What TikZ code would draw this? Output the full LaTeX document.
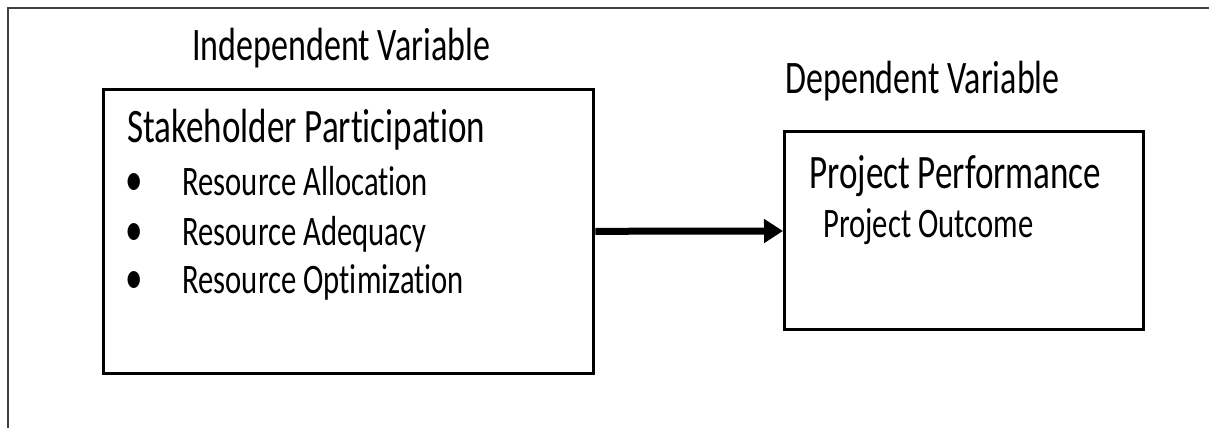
\documentclass[tikz,border=0pt]{standalone}
\usepackage{fontspec}
\setmainfont{Carlito}[FakeStretch=0.73,Ligatures=NoCommon]
\usepackage{tikz}
\usetikzlibrary{arrows.meta}
\usetikzlibrary{positioning}

\begin{document}
\begin{tikzpicture}[x=0.5pt,y=-0.5pt]
	\tikzset{
		varbox/.style={draw,line width=1.7pt,anchor=north west,inner sep=0},
		%
		heading/.style={anchor=base west,inner sep=0,font=\fontsize{23.3}{28}\selectfont},
		title/.style=  {anchor=base west,inner sep=0,font=\fontsize{24}{28}\selectfont},
		item/.style=   {anchor=base west,inner sep=0,font=\fontsize{21}{25}\selectfont},
		bulletmark/.style={anchor=base,inner sep=0,font=\fontsize{24}{28}\selectfont},
		%
		link/.style={line width=3.5pt,-{Triangle[length=9.5pt,width=11.5pt]}}
	}
	
	\useasboundingbox (0,0) rectangle (1209,428);
	
	% frame, cut at the right and bottom
	\draw[line width=1pt,black!75] (7.5,428) -- (7.5,8) -- (1209,8);
	
	\node[varbox,minimum width=245pt,minimum height=142pt] (indep) at (102,88) {};
	\node[varbox,minimum width=179.5pt,minimum height=99pt] (dep) at (783,130) {};
	
	\node[heading] (indeplabel) at (192,60) {Independent Variable};
	\node[heading] (deplabel) at (785,93) {Dependent Variable};
	
	\node[title] (stake) at (127,142) {Stakeholder Participation};
	\foreach \y/\name/\txt in {195/alloc/Allocation, 245/adeq/Adequacy, 293/optim/Optimization}{
		\node[bulletmark] (dot\name) at (134,\y) {•};
		\node[item] (\name) at (182,\y) {Resource \txt};
	}
	
	\node[title] (perf) at (809,188) {Project Performance};
	\node[item] (outcome) at (823,237) {Project Outcome};
	
	\draw[link] (indep) -- (dep);
	\end{tikzpicture}
\end{document}
